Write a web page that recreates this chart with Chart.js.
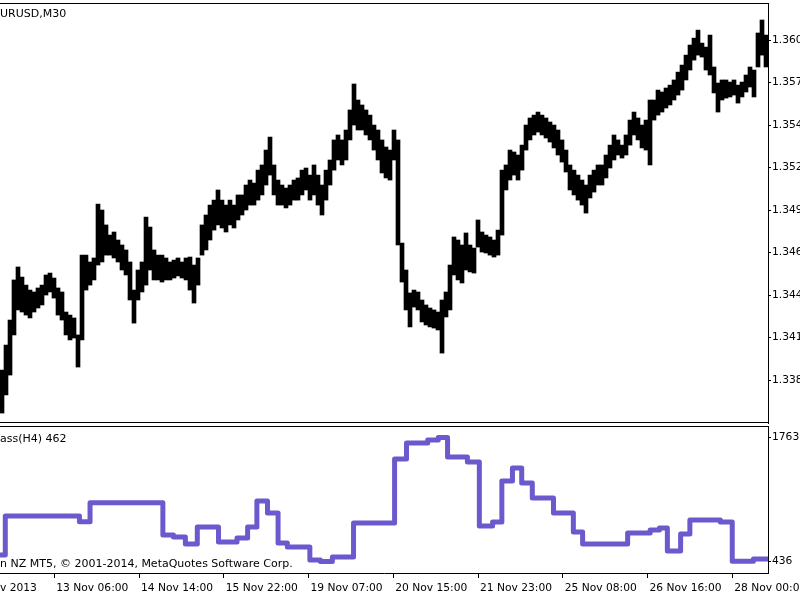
<!DOCTYPE html>
<html><head><meta charset="utf-8">
<script src="https://cdn.jsdelivr.net/npm/chart.js@4.4.1/dist/chart.umd.min.js"></script>
<style>
html,body{margin:0;padding:0;background:#fff;overflow:hidden;}
#wrap{position:relative;width:800px;height:600px;font-family:"DejaVu Sans",sans-serif;color:#000;}
canvas{position:absolute;left:0;}
.t{position:absolute;left:0;font-size:11px;line-height:13px;white-space:nowrap;color:#000;}
</style></head><body>
<div id="wrap">
<canvas id="price" width="800" height="425" style="top:0"></canvas>
<canvas id="ind" width="800" height="175" style="top:425px"></canvas>
<div class="t" style="top:7px">URUSD,M30</div>
<div class="t" style="top:432px">ass(H4) 462</div>
<div class="t" style="top:557px">n NZ MT5, © 2001-2014, MetaQuotes Software Corp.</div>
<div class="t" style="top:581px;font-size:10.7px">v 2013</div>
</div>
<script>
// ---- price pane (EURUSD M30, aggregated bars: high / low) ----
const highs = [
1.33942,1.34098,1.34254,1.34504,1.34585,1.34522,1.34472,1.34441,1.34429,1.34454,
1.34472,1.34535,1.34547,1.34516,1.34454,1.34429,1.34304,1.34285,1.34267,1.34161,
1.34659,1.34659,1.34616,1.34641,1.34977,1.34940,1.34847,1.34784,1.34803,1.34753,
1.34722,1.34691,1.34616,1.34441,1.34566,1.34616,1.34896,1.34834,1.34691,1.34659,
1.34659,1.34641,1.34616,1.34628,1.34641,1.34616,1.34641,1.34647,1.34597,1.34641,
1.34847,1.34909,1.34971,1.35002,1.35065,1.35002,1.34971,1.35002,1.34971,1.35034,
1.35034,1.35096,1.35127,1.35108,1.35189,1.35221,1.35314,1.35395,1.35221,1.35127,
1.35096,1.35077,1.35096,1.35127,1.35140,1.35189,1.35202,1.35158,1.35221,1.35158,
1.35096,1.35189,1.35252,1.35377,1.35408,1.35377,1.35439,1.35564,1.35726,1.35626,
1.35595,1.35564,1.35532,1.35470,1.35439,1.35377,1.35333,1.35314,1.35439,1.35377,
1.34734,1.34566,1.34423,1.34441,1.34429,1.34379,1.34348,1.34329,1.34317,1.34304,
1.34379,1.34429,1.34597,1.34772,1.34753,1.34722,1.34797,1.34722,1.34703,1.34878,
1.34803,1.34784,1.34772,1.34753,1.34815,1.35189,1.35221,1.35314,1.35302,1.35283,
1.35345,1.35470,1.35514,1.35532,1.35551,1.35532,1.35514,1.35489,1.35470,1.35439,
1.35377,1.35314,1.35221,1.35189,1.35158,1.35127,1.35096,1.35158,1.35189,1.35221,
1.35221,1.35283,1.35345,1.35408,1.35377,1.35345,1.35408,1.35501,1.35551,1.35514,
1.35470,1.35501,1.35626,1.35626,1.35688,1.35676,1.35701,1.35719,1.35751,1.35800,
1.35844,1.35906,1.35969,1.36012,1.36062,1.35981,1.35956,1.36031,1.35832,1.35732,
1.35751,1.35751,1.35738,1.35751,1.35719,1.35738,1.35782,1.35832,1.35813,1.36044,
1.36125,1.36031];
const lows = [
1.33674,1.33787,1.33911,1.34161,1.34317,1.34304,1.34285,1.34267,1.34304,1.34329,
1.34348,1.34410,1.34429,1.34391,1.34285,1.34254,1.34161,1.34130,1.34142,1.33961,
1.34130,1.34441,1.34472,1.34504,1.34597,1.34616,1.34659,1.34659,1.34641,1.34616,
1.34566,1.34535,1.34379,1.34235,1.34379,1.34429,1.34472,1.34566,1.34504,1.34504,
1.34491,1.34504,1.34504,1.34516,1.34529,1.34516,1.34504,1.34441,1.34360,1.34472,
1.34659,1.34691,1.34753,1.34815,1.34847,1.34828,1.34803,1.34847,1.34828,1.34878,
1.34909,1.34940,1.34971,1.34971,1.35002,1.35034,1.35096,1.35158,1.35034,1.34971,
1.34971,1.34953,1.34971,1.35002,1.35002,1.35034,1.35065,1.35002,1.35034,1.34971,
1.34909,1.35002,1.35096,1.35189,1.35252,1.35221,1.35252,1.35377,1.35470,1.35439,
1.35439,1.35408,1.35377,1.35314,1.35252,1.35171,1.35140,1.35127,1.35252,1.34722,
1.34491,1.34317,1.34211,1.34335,1.34317,1.34242,1.34223,1.34211,1.34204,1.34192,
1.34048,1.34273,1.34317,1.34535,1.34504,1.34485,1.34566,1.34554,1.34547,1.34709,
1.34678,1.34672,1.34659,1.34647,1.34659,1.34784,1.35065,1.35127,1.35158,1.35127,
1.35189,1.35314,1.35377,1.35408,1.35426,1.35408,1.35389,1.35364,1.35327,1.35283,
1.35239,1.35177,1.35065,1.35034,1.35002,1.34971,1.34921,1.35015,1.35052,1.35096,
1.35096,1.35140,1.35202,1.35252,1.35283,1.35264,1.35283,1.35345,1.35408,1.35377,
1.35327,1.35314,1.35221,1.35501,1.35532,1.35551,1.35576,1.35595,1.35626,1.35657,
1.35688,1.35751,1.35813,1.35875,1.35906,1.35894,1.35813,1.35782,1.35670,1.35551,
1.35626,1.35638,1.35645,1.35657,1.35607,1.35645,1.35676,1.35707,1.35645,1.35832,
1.35906,1.35832];
const priceTickValues = [1.36000,1.35735,1.35470,1.35205,1.34940,1.34675,1.34410,1.34145,1.33880];
const priceTickLabels = ["1.360","1.357","1.354","1.352","1.349","1.346","1.344","1.341","1.338"];

// ---- indicator pane (H4 step line): bar index where each step starts, value ----
const stepStart = [0,4,60,68,123,131,140,149,165,179,187,194,202,210,217,234,242,251,267,298,
  307,323,331,338,353,362,372,379,387,394,402,418,433,440,474,491,498,504,514,521,544,553,569,580];
const stepValue = [505,923,862,1065,720,698,623,805,645,687,805,1083,955,634,591,452,436,484,848,1533,
  1704,1736,1763,1554,1501,816,859,1297,1436,1276,1115,955,752,623,741,773,794,548,730,880,859,440,462,462];
const indTickValues = [1763, 436];
const indTickLabels = ["1763", "436"];

// ---- time axis ----
const timeTickValues = [41,105,169,233,297,361,425,489,553];
const timeTickLabels = ["13 Nov 06:00","14 Nov 14:00","15 Nov 22:00","19 Nov 07:00","20 Nov 15:00",
  "21 Nov 23:00","25 Nov 08:00","26 Nov 16:00","28 Nov 00:00"];

const FONT = {family: '"DejaVu Sans", sans-serif', size: 10.7};

function frame(top, bottom) {
  return {
    id: 'frame',
    afterDraw(chart) {
      const {ctx, chartArea: a} = chart;
      ctx.save();
      ctx.strokeStyle = '#000'; ctx.lineWidth = 1;
      ctx.beginPath();
      if (top) { ctx.moveTo(0, a.top + 0.5); ctx.lineTo(a.right, a.top + 0.5); }
      if (bottom) { ctx.moveTo(0, a.bottom - 0.5); ctx.lineTo(a.right, a.bottom - 0.5); }
      ctx.stroke();
      ctx.restore();
    }
  };
}
function fixWidth(w) {
  return (s) => { s.width = w; s.paddingTop = 0; s.paddingBottom = 0; s.paddingLeft = 0; s.paddingRight = 0; };
}

const barLabels = highs.map((_, i) => i);
new Chart(document.getElementById('price'), {
  type: 'bar',
  data: {
    labels: barLabels,
    datasets: [{
      data: lows.map((l, i) => [l, highs[i]]),
      backgroundColor: '#000',
      borderWidth: 0,
      barPercentage: 1,
      categoryPercentage: 1
    }]
  },
  options: {
    responsive: false, animation: false, devicePixelRatio: 1,
    layout: {padding: {top: 3, bottom: 2, left: 0, right: 0}},
    plugins: {legend: {display: false}, tooltip: {enabled: false}},
    scales: {
      x: {display: false},
      y: {
        position: 'right', min: 1.33612, max: 1.36231,
        afterBuildTicks: (s) => { s.ticks = priceTickValues.map(v => ({value: v})); },
        afterFit: fixWidth(32),
        ticks: {callback: (v, i) => priceTickLabels[i], font: FONT, color: '#000', padding: 1},
        grid: {drawOnChartArea: false, drawTicks: true, tickLength: 3, color: '#000'},
        border: {display: true, color: '#000'}
      }
    }
  },
  plugins: [frame(true, true)]
});

new Chart(document.getElementById('ind'), {
  type: 'line',
  data: {
    datasets: [{
      data: stepStart.map((x, i) => ({x: x, y: stepValue[i]})),
      stepped: true,
      borderColor: '#6a5acd',
      borderWidth: 5,
      pointRadius: 0,
      borderJoinStyle: 'round',
      borderCapStyle: 'round',
      fill: false
    }]
  },
  options: {
    responsive: false, animation: false, devicePixelRatio: 1,
    layout: {padding: {top: 1, bottom: 0, left: 0, right: 0}},
    plugins: {legend: {display: false}, tooltip: {enabled: false}},
    scales: {
      x: {
        type: 'linear', position: 'bottom', min: 0, max: 580,
        afterBuildTicks: (s) => { s.ticks = timeTickValues.map(v => ({value: v})); },
        afterFit: (s) => { s.height = 27; s.paddingLeft = 0; s.paddingRight = 0; },
        ticks: {callback: (v, i) => timeTickLabels[i], font: FONT, color: '#000', align: 'start',
                labelOffset: 2, autoSkip: false, maxRotation: 0, padding: 4},
        grid: {drawOnChartArea: false, drawTicks: true, tickLength: 5, color: '#000'},
        border: {display: true, color: '#000'}
      },
      y: {
        position: 'right', min: 313, max: 1886,
        afterBuildTicks: (s) => { s.ticks = indTickValues.map(v => ({value: v})); },
        afterFit: fixWidth(32),
        ticks: {callback: (v, i) => indTickLabels[i], font: FONT, color: '#000', padding: 1},
        grid: {drawOnChartArea: false, drawTicks: true, tickLength: 3, color: '#000'},
        border: {display: true, color: '#000'}
      }
    }
  },
  plugins: [frame(true, false)]
});
</script>
</body></html>
